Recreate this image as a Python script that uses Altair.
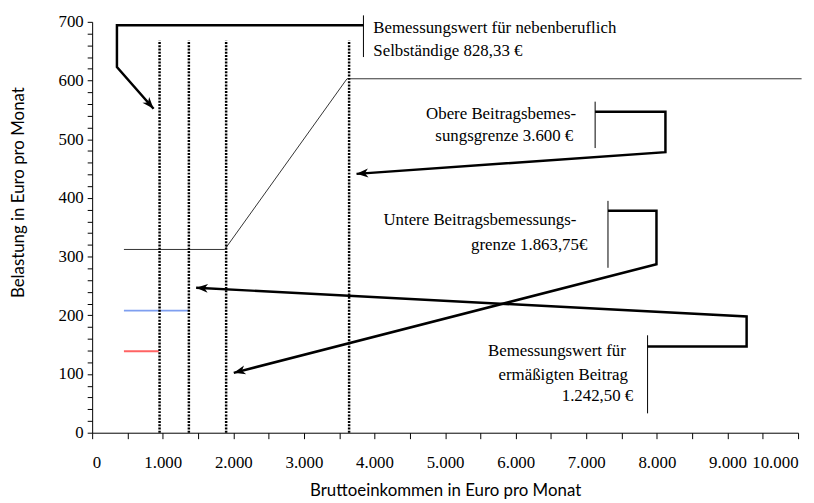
import math
import altair as alt
import pandas as pd

# ---- data ----
main_x = [450, 1878, 3610, 10050]
main_y = [312.2, 312.2, 603, 603]
blue_x = [450, 1362]
blue_y = [208, 208]
red_x = [450, 945]
red_y = [138.7, 138.7]
dotted_x = [955, 1370, 1898, 3640]
dotted_top = 668

# annotation texts (one row per line)
text_lines = ["Bemessungswert für nebenberuflich", "Selbständige 828,33 €",
              "Obere Beitragsbemes-", "sungsgrenze 3.600 €",
              "Untere Beitragsbemessungs-", "grenze 1.863,75€",
              "Bemessungswert für", "ermäßigten Beitrag", "1.242,50 €"]
text_x = [3983, 3983, 6855, 6815, 6860, 7015, 7560, 7590, 7665]
text_y = [690, 651, 543, 505, 362, 320, 139, 99, 63]
text_align = ["left", "left", "right", "right", "right", "right", "right", "right", "right"]

# callout polylines: (x, y) vertices, last vertex is the arrow tip
callouts = [
    [(3843, 694), (351, 694), (351, 623), (870, 552)],
    [(7125, 547), (8121, 547), (8121, 478), (3745, 441)],
    [(7307, 378), (7994, 378), (7994, 287), (2006, 102)],
    [(7868, 147), (9271, 147), (9271, 198), (1473, 247)],
]
# thin vertical markers beside the texts
marker_x = [3843, 7125, 7307, 7868]
marker_y1 = [711, 564, 395, 166]
marker_y2 = [640, 485, 281, 33]

x_ticks = list(range(0, 10001, 500))
y_ticks = list(range(0, 701, 20))

W, H = 713, 415
XMAX, YMAX = 10000, 700

xs = alt.Scale(domain=[0, XMAX], nice=False, zero=False)
ys = alt.Scale(domain=[0, YMAX], nice=False)

SERIF = "Liberation Serif"
SANS = "Lato"

x_axis = alt.Axis(
    values=x_ticks, tickCount=200,
    labelExpr="datum.value % 1000 == 0 ? replace(format(datum.value, ','), ',', '.') : ''",
    title="Bruttoeinkommen in Euro pro Monat",
    grid=False, domainColor="black", tickColor="black", tickSize=6,
    labelFont=SERIF, labelFontSize=17, labelColor="black",
    labelBaseline="middle", labelPadding=24, labelFlush=True, labelOverlap=False,
    titleFont=SANS, titleFontSize=17, titleFontWeight="normal", titleColor="black",
    titleY=58, titleBaseline="middle",
)
y_axis = alt.Axis(
    values=y_ticks, tickCount=200,
    labelExpr="datum.value % 100 == 0 ? datum.value : ''",
    title="Belastung in Euro pro Monat",
    grid=False, domainColor="black", tickColor="black", tickSize=5,
    labelFont=SERIF, labelFontSize=17, labelColor="black", labelPadding=4,
    labelOverlap=False,
    titleFont=SANS, titleFontSize=17, titleFontWeight="normal", titleColor="black",
    titleX=-74, titleY=172, titleAngle=270, titleBaseline="middle", titleAlign="center",
)

main_df = pd.DataFrame({"x": main_x, "y": main_y})
base_line = alt.Chart(main_df).mark_line(color="#333333", strokeWidth=1).encode(
    x=alt.X("x:Q", scale=xs, axis=x_axis),
    y=alt.Y("y:Q", scale=ys, axis=y_axis),
)

blue = alt.Chart(pd.DataFrame({"x": blue_x, "y": blue_y})).mark_line(
    color="#7f9ff0", strokeWidth=2).encode(x=alt.X("x:Q", scale=xs), y=alt.Y("y:Q", scale=ys))
red = alt.Chart(pd.DataFrame({"x": red_x, "y": red_y})).mark_line(
    color="#ff6363", strokeWidth=2).encode(x=alt.X("x:Q", scale=xs), y=alt.Y("y:Q", scale=ys))

dotted_df = pd.DataFrame({"x": dotted_x, "y0": [0] * len(dotted_x), "y1": [dotted_top] * len(dotted_x)})
dotted = alt.Chart(dotted_df).mark_rule(color="black", strokeWidth=2.5, strokeDash=[2, 1.3]).encode(
    x=alt.X("x:Q", scale=xs), y=alt.Y("y0:Q", scale=ys), y2="y1:Q")

marker_df = pd.DataFrame({"x": marker_x, "y0": marker_y1, "y1": marker_y2})
markers = alt.Chart(marker_df).mark_rule(color="black", strokeWidth=1).encode(
    x=alt.X("x:Q", scale=xs), y=alt.Y("y0:Q", scale=ys), y2="y1:Q")

rows = []
heads = []
kx, ky = W / XMAX, H / YMAX
for gi, pts in enumerate(callouts):
    for oi, (px, py) in enumerate(pts):
        rows.append({"g": gi, "o": oi, "x": px, "y": py})
    (x0, y0), (x1, y1) = pts[-2], pts[-1]
    ang = math.degrees(math.atan2(-(y1 - y0) * ky, (x1 - x0) * kx)) % 360
    heads.append({"x": x1, "y": y1, "a": ang})
call_df = pd.DataFrame(rows)
callout_lines = alt.Chart(call_df).mark_line(
    color="black", strokeWidth=2.5, strokeJoin="miter", strokeCap="butt").encode(
    x=alt.X("x:Q", scale=xs), y=alt.Y("y:Q", scale=ys), detail="g:N", order="o:Q")

head_df = pd.DataFrame(heads)
arrowheads = alt.Chart(head_df).mark_point(
    shape="M0,0L-1,-0.38L-0.72,0L-1,0.38Z", filled=True, color="black", opacity=1,
    size=560, strokeWidth=0).encode(
    x=alt.X("x:Q", scale=xs), y=alt.Y("y:Q", scale=ys), angle=alt.Angle("a:Q", scale=None))

text_df = pd.DataFrame({"t": text_lines, "x": text_x, "y": text_y, "al": text_align})
texts_left = alt.Chart(text_df[text_df.al == "left"]).mark_text(
    font=SERIF, fontSize=17, align="left", baseline="middle", color="black").encode(
    x=alt.X("x:Q", scale=xs), y=alt.Y("y:Q", scale=ys), text="t:N")
texts_right = alt.Chart(text_df[text_df.al == "right"]).mark_text(
    font=SERIF, fontSize=17, align="right", baseline="middle", color="black").encode(
    x=alt.X("x:Q", scale=xs), y=alt.Y("y:Q", scale=ys), text="t:N")

chart = alt.layer(
    base_line, blue, red, dotted, markers, callout_lines, arrowheads, texts_left, texts_right
).properties(
    width=W, height=H,
    autosize=alt.AutoSizeParams(type="none"),
    padding={"left": 85, "top": 11.5, "right": 8, "bottom": 68},
    background="white",
).configure_view(stroke=None)

chart.save("out.html", embed_options={"renderer": "svg", "actions": False})
